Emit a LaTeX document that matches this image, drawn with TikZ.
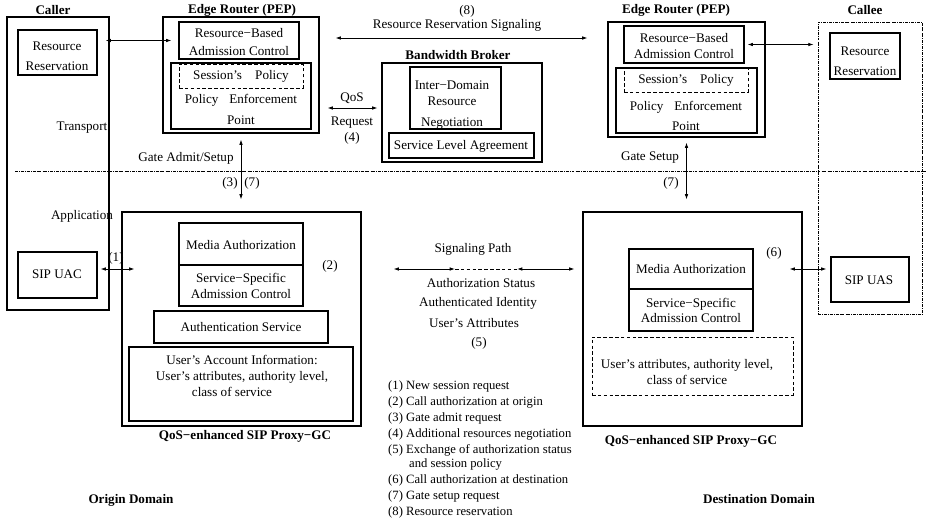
\documentclass[tikz,border=0pt]{standalone}
\usepackage{fontspec}
\setmainfont{Liberation Serif}
\usetikzlibrary{arrows.meta,fit}

\newcommand{\fs}[1]{\fontsize{11.2}{#1}\selectfont}

\tikzset{
  box/.style={draw, line width=0.9pt, inner sep=0pt},
  dbox/.style={box, line width=0.7pt, dash pattern=on 3pt off 2pt},
  ddbox/.style={box, line width=0.7pt, dash pattern=on 2.5pt off 1pt on 0.5pt off 1pt},
  txt/.style={inner sep=0pt, align=center},
  head/.style={txt, font=\fs{13}\bfseries},
  sig/.style={{Latex[length=4.5pt,width=3pt]}-{Latex[length=4.5pt,width=3pt]}, line width=0.7pt},
}

\begin{document}
\begin{tikzpicture}[x=0.03cm, y=-0.03cm, font=\fs{13}]

\useasboundingbox (0,0) rectangle (926,522);

% Caller
\node[box, fit={(7,17) (109,310)}] (caller) {};
\node[head] (callerT) at (53,10) {Caller};
\node[box, fit={(18,30) (97,75)}] (rrA) {};
\node[txt, font=\fs{17}] (rrAT) at (57,56.5) {Resource\\Reservation};
\node[txt] (trT) at (82,128) {Transport};
\node[txt] (apT) at (82,216) {Application};
\node[box, fit={(18,252) (97,298)}] (uac) {};
\node[txt] (uacT) at (57,274) {SIP UAC};

% Edge router, origin side
\node[box, fit={(163,17) (319,133)}] (erA) {};
\node[head] (erAT) at (242,10) {Edge Router (PEP)};
\node[box, fit={(179,22) (299,59)}] (rbacA) {};
\node[txt, font=\fs{16}] (rbacAT) at (239,42) {Resource−Based\\Admission Control};
\node[box, fit={(171,63) (311,129)}] (pepA) {};
\node[dbox, fit={(179,64) (303,88)}] (sesA) {};
\node[txt] (sesAT) at (241,76) {Session’s\quad Policy};
\node[txt, font=\fs{18}] (pepAT) at (241,109.5) {Policy\hspace{6.5pt} Enforcement\\Point};

% Bandwidth broker
\node[box, fit={(382,63) (542,162)}] (bb) {};
\node[head] (bbT) at (458,55) {Bandwidth Broker};
\node[box, fit={(410,67) (501,129)}] (idrn) {};
\node[txt, font=\fs{13.7}] (idrnT) at (452,105) {Inter−Domain\\Resource\\[4pt]Negotiation};
\node[box, fit={(389,133) (534,158)}] (sla) {};
\node[txt] (slaT) at (461,146) {Service Level Agreement};

% Edge router, destination side
\node[box, fit={(608,22) (765,137)}] (erB) {};
\node[head] (erBT) at (676,10) {Edge Router (PEP)};
\node[box, fit={(624,26) (744,63)}] (rbacB) {};
\node[txt, font=\fs{14}] (rbacBT) at (684,46) {Resource−Based\\Admission Control};
\node[box, fit={(616,68) (757,133)}] (pepB) {};
\node[dbox, fit={(624,68) (748,92)}] (sesB) {};
\node[txt] (sesBT) at (686,80) {Session’s\quad Policy};
\node[txt, font=\fs{17}] (pepBT) at (686,116) {Policy\hspace{6.5pt} Enforcement\\Point};

% Callee
\node[ddbox, fit={(818,22) (922,314)}] (callee) {};
\node[head] (calleeT) at (865,10) {Callee};
\node[box, fit={(830,33) (900,79)}] (rrB) {};
\node[txt, font=\fs{17}] (rrBT) at (865,61.5) {Resource\\Reservation};
\node[box, fit={(831,257) (909,302)}] (uas) {};
\node[txt] (uasT) at (869,280) {SIP UAS};

% SIP proxy, origin side
\node[box, fit={(122,212) (361,426)}] (proxyA) {};
\node[box, fit={(179,223) (303,265)}] (maA) {};
\node[txt] (maAT) at (241,245) {Media Authorization};
\node[box, fit={(179,265) (303,306)}] (ssacA) {};
\node[txt, font=\fs{14}] (ssacAT) at (241,286) {Service−Specific\\Admission Control};
\node[txt] (n2) at (330,266) {(2)};
\node[box, fit={(154,311) (328,343)}] (authA) {};
\node[txt] (authAT) at (241,327) {Authentication Service};
\node[box, fit={(129,347) (353,421)}] (uaiA) {};
\node[txt, font=\fs{14}] (uaiAT) at (242,376) {User’s Account Information:\\User’s attributes, authority level,\\\hspace*{-0.6cm}class of service};
\node[head] (pxAT) at (245,436) {QoS−enhanced SIP Proxy−GC};

% SIP proxy, destination side
\node[box, fit={(583,212) (802,426)}] (proxyB) {};
\node[box, fit={(629,249) (753,289)}] (maB) {};
\node[txt] (maBT) at (691,269) {Media Authorization};
\node[box, fit={(629,289) (753,331)}] (ssacB) {};
\node[txt, font=\fs{13}] (ssacBT) at (691,310.5) {Service−Specific\\Admission Control};
\node[txt] (n6) at (774,253) {(6)};
\node[dbox, fit={(592,337) (793,395)}] (uattB) {};
\node[txt, font=\fs{14.5}] (uattBT) at (687,372) {User’s attributes, authority level,\\class of service};
\node[head] (pxBT) at (691,441) {QoS−enhanced SIP Proxy−GC};

% Layer line and helper heights
\coordinate (layL) at (15,171);
\coordinate (layR) at (926,171);
\draw[line width=0.7pt, dash pattern=on 2.5pt off 1pt on 0.5pt off 1pt] (layL) -- (layR);
\coordinate (rsY) at (0,38);
\coordinate (qosY) at (0,108);
\coordinate (sigY) at (0,269);
\coordinate (dashL) at (455,269);
\coordinate (dashR) at (517,269);

% Transport signaling
\draw[sig, shorten <=0.24cm, shorten >=0.21cm] (rbacA.west -| rrA.east) -- (rbacA.west);
\draw[sig, shorten <=0.48cm, shorten >=0.6cm] (erA.east |- rsY) -- (erB.west |- rsY);
\node[txt] (n8) at (467,11) {(8)};
\node[txt] (rsT) at (457,25) {Resource Reservation Signaling};
\draw[sig, shorten <=0.24cm, shorten >=0.12cm] (erA.east |- qosY) -- (bb.west |- qosY);
\node[txt] (qosT) at (352,98) {QoS};
\node[txt, font=\fs{13.7}] (reqT) at (352,131) {Request\\(4)};
\draw[sig, shorten <=0.09cm, shorten >=0.12cm] (rbacB.east) -- (rbacB.east -| callee.west);

% Gate admit / setup
\draw[sig, shorten <=0.18cm, shorten >=0.36cm] (erA.south) -- (erA.south |- proxyA.north);
\node[txt] (gaT) at (186,158) {Gate Admit/Setup};
\node[txt] (n3) at (230,183) {(3)};
\node[txt] (n7a) at (252,183) {(7)};
\draw[sig, shorten <=0.15cm, shorten >=0.36cm] (erB.south) -- (erB.south |- proxyB.north);
\node[txt] (gsT) at (650,158) {Gate Setup};
\node[txt] (n7b) at (671,183) {(7)};

% Application signaling
\draw[sig, shorten <=0.09cm, shorten >=-0.39cm] (uac.east |- sigY) -- (proxyA.west |- sigY);
\node[txt] (n1) at (116,258) {(1)};
\draw[sig, shorten <=0.96cm] (proxyA.east |- sigY) -- (dashL);
\draw[line width=0.7pt, dash pattern=on 3pt off 2pt] (dashL) -- (dashR);
\draw[sig, shorten >=0.24cm] (dashR) -- (proxyB.west |- sigY);
\draw[sig, shorten <=-0.39cm, shorten >=0.12cm] (proxyB.east |- sigY) -- (uas.west |- sigY);
\node[txt] (spT) at (473,249) {Signaling Path};
\node[txt] (asT) at (481,283) {Authorization Status};
\node[txt] (aiT) at (478,303) {Authenticated Identity};
\node[txt] (uaT) at (474,323) {User’s Attributes};
\node[txt] (n5) at (479,343) {(5)};

% Legend
\node[txt, align=left, anchor=north west, font=\fontsize{10.8}{13.7}\selectfont] (legend) at (388,380)
  {(1) New session request\\
   (2) Call authorization at origin\\
   (3) Gate admit request\\
   (4) Additional resources negotiation\\
   (5) Exchange of authorization status\\[-1.7pt]
   \hspace*{0.63cm}and session policy\\
   (6) Call authorization at destination\\
   (7) Gate setup request\\
   (8) Resource reservation};

% Domains
\node[head] (odT) at (131,500) {Origin Domain};
\node[head] (ddT) at (759,499) {Destination Domain};

\end{tikzpicture}
\end{document}
